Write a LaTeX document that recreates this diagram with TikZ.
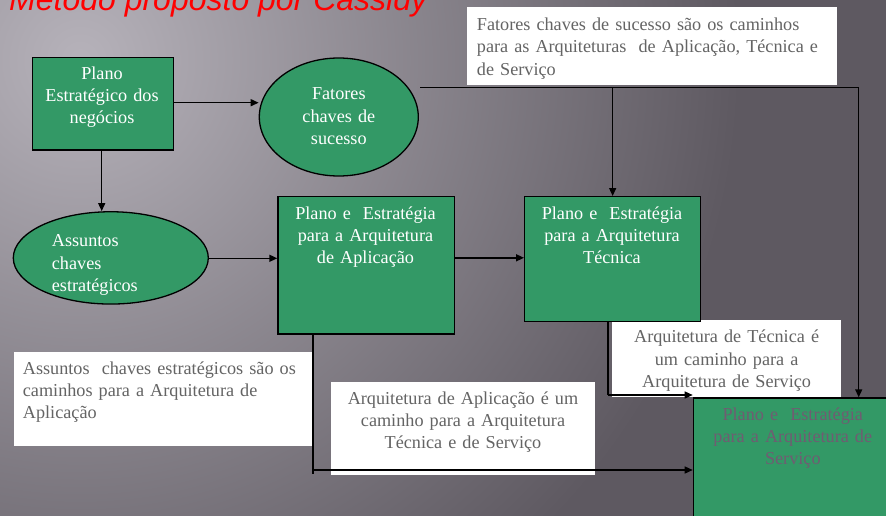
\documentclass[tikz,border=0pt]{standalone}
\usepackage{fontspec}
\setmainfont{Liberation Serif}
\newfontfamily\titlefont{Liberation Sans}
\usetikzlibrary{arrows.meta,shapes.geometric}
\definecolor{bglight}{RGB}{182,178,186}
\definecolor{bgdark}{RGB}{94,89,97}
\definecolor{boxgreen}{RGB}{51,153,102}
\definecolor{notegray}{RGB}{100,100,100}
\definecolor{srvtxt}{RGB}{112,92,114}
\definecolor{titlered}{RGB}{255,0,0}
\tikzset{
  gbox/.style={draw=black, line width=1.3pt, fill=boxgreen, inner sep=0pt, anchor=north west},
  gell/.style={ellipse, draw=black, line width=1.3pt, fill=boxgreen, inner sep=0pt},
  notebox/.style={fill=white, inner sep=0pt, anchor=north west},
  txtbase/.style={font=\fontsize{18.2}{22.3}\selectfont, inner sep=0pt, text width=440pt},
  wtxtc/.style={txtbase, text=white, align=center, anchor=base},
  wtxtl/.style={txtbase, text=white, align=left, anchor=base west},
  ntxtc/.style={txtbase, text=notegray, align=center, anchor=base},
  ntxtl/.style={txtbase, text=notegray, align=left, anchor=base west},
  conn/.style={draw=black, line width=1.4pt},
  arr/.style={conn, -{Triangle[length=8pt,width=7pt]}},
}
\begin{document}
\begin{tikzpicture}[x=1pt, y=-1pt]
\useasboundingbox (0,0) rectangle (886,516);
% background
\fill[bgdark] (0,0) rectangle (886,516);
\begin{scope}
  \clip (0,0) rectangle (886,516);
  \shade[inner color=bglight, outer color=bgdark] (80,60) circle (660);
\end{scope}
% title
\node[anchor=base west, inner sep=0pt, text=titlered,
      font=\titlefont\itshape\fontsize{32}{36}\selectfont] (title) at (9,10.5) {Método proposto por Cassidy};

% white note boxes
\node[notebox, minimum width=370pt, minimum height=78.3pt] (nb1) at (466.7,6.7) {};
\node[notebox, minimum width=300pt, minimum height=94.3pt] (nb2) at (13.3,351.7) {};
\node[notebox, minimum width=264pt, minimum height=93pt] (nb3) at (331,382) {};
\node[notebox, minimum width=229pt, minimum height=77pt] (nb4) at (612,320) {};

% green shapes
\node[gbox, minimum width=141pt, minimum height=92.6pt] (pen) at (31.5,56.7) {};
\node[gell, minimum width=159pt, minimum height=118pt] (fcs) at (338.8,117) {};
\node[gell, minimum width=195pt, minimum height=92.3pt] (ase) at (110.8,257.9) {};
\node[gbox, minimum width=176.4pt, minimum height=137.3pt] (app) at (277.3,196) {};
\node[gbox, minimum width=176pt, minimum height=125pt] (tec) at (524,196) {};
\node[gbox, minimum width=200.2pt, minimum height=140pt] (srv) at (692.7,397.3) {};

% connectors
\coordinate (fcsout) at (420,87.7);
\coordinate (j1) at (858.7,87.7);
\coordinate (c1) at (608,395);
\coordinate (c2) at (313,470);
\draw[arr] (pen.east |- 0,102.7) -- (fcs.west |- 0,102.7);
\draw[arr] (pen.south -| 101.7,0) -- (ase.north -| 101.7,0);
\draw[arr] (ase.east |- 0,258.3) -- (app.west |- 0,258.3);
\draw[arr] (app.east |- 0,257.8) -- (tec.west |- 0,257.8);
\draw[conn] (fcsout) -- (j1);
\draw[arr] (j1) -- (j1 |- srv.north);
\draw[arr] (tec.north |- j1) -- (tec.north);
\draw[conn] (tec.south -| c1) -- (c1);
\draw[arr] (c1) -- (srv.west |- c1);
\draw[conn] (app.south -| c2) -- (c2 |- 0,474);
\draw[arr] (c2) -- (srv.west |- c2);

% texts
\node[wtxtc] (pen-t) at (102,79.3) {Plano\\Estratégico dos\\negócios};
\node[wtxtc] (fcs-t) at (338.8,100) {Fatores\\chaves de\\sucesso};
\node[wtxtl] (ase-t) at (51.7,246.7) {Assuntos\\chaves\\estratégicos};
\node[wtxtc] (app-t) at (365.5,219.3) {Plano e\ \ Estratégia\\para a Arquitetura\\de Aplicação};
\node[wtxtc] (tec-t) at (612,219.3) {Plano e\ \ Estratégia\\para a Arquitetura\\Técnica};
\node[wtxtc, text=srvtxt] (srv-t) at (792.8,420) {Plano e\ \ Estratégia\\para a Arquitetura de\\Serviço};
\node[ntxtl] (nb1-t) at (476.7,30.7) {Fatores chaves de sucesso são os caminhos\\para as Arquiteturas\ \ de Aplicação, Técnica e\\de Serviço};
\node[ntxtl] (nb2-t) at (22.7,374.3) {Assuntos\ \ chaves estratégicos são os\\caminhos para a Arquitetura de\\Aplicação};
\node[ntxtc] (nb3-t) at (463,404.3) {Arquitetura de Aplicação é um\\caminho para a Arquitetura\\Técnica e de Serviço};
\node[ntxtc] (nb4-t) at (726.6,342.7) {Arquitetura de Técnica é\\um caminho para a\\Arquitetura de Serviço};
\end{tikzpicture}
\end{document}
